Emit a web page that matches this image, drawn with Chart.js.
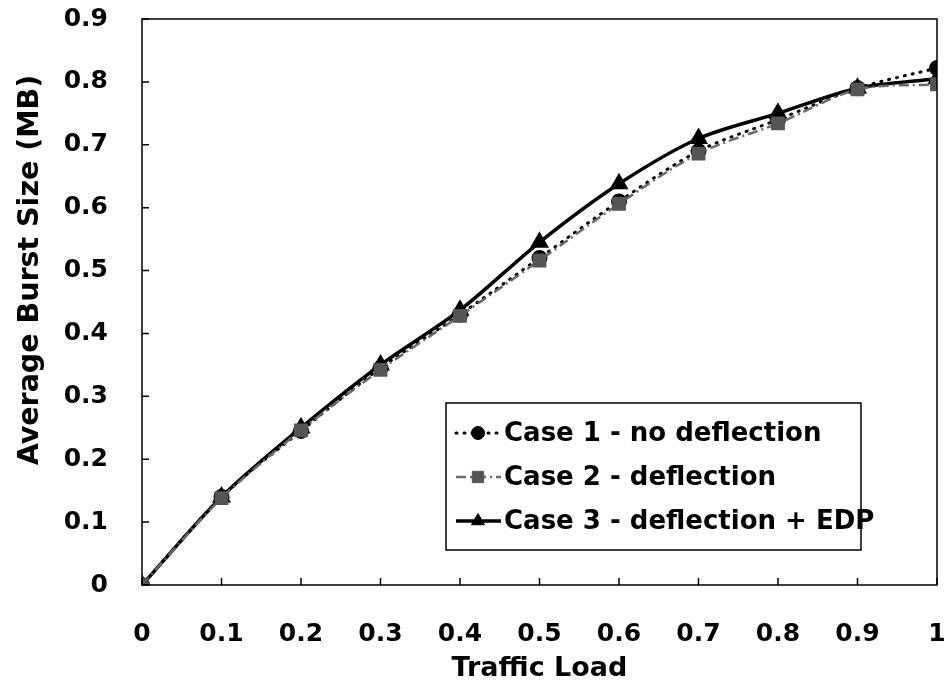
<!DOCTYPE html>
<html>
<head>
<meta charset="utf-8">
<script src="https://cdn.jsdelivr.net/npm/chart.js@4.4.0/dist/chart.umd.min.js"></script>
<style>
  html, body { margin: 0; padding: 0; background: #fff; }
  #wrap { width: 949px; height: 691px; }
</style>
</head>
<body>
<div id="wrap"><canvas id="burstChart" width="949" height="691"></canvas></div>
<script>
// traffic load on the x axis
const loads = [0, 0.1, 0.2, 0.3, 0.4, 0.5, 0.6, 0.7, 0.8, 0.9, 1.0];

// average burst size (MB) per case
const case1 = [0, 0.14, 0.245, 0.345, 0.43, 0.52, 0.61, 0.69, 0.74, 0.79, 0.822];
const case2 = [0, 0.138, 0.246, 0.342, 0.428, 0.516, 0.606, 0.686, 0.734, 0.788, 0.796];
const case3 = [0, 0.14, 0.25, 0.35, 0.437, 0.545, 0.638, 0.71, 0.75, 0.79, 0.805];

const seriesNames = ['Case 1 - no deflection', 'Case 2 - deflection', 'Case 3 - deflection + EDP'];
const yTicks = [0, 0.1, 0.2, 0.3, 0.4, 0.5, 0.6, 0.7, 0.8, 0.9];
const xTitle = 'Traffic Load';
const yTitle = 'Average Burst Size (MB)';

const FONT = '"DejaVu Sans", Verdana, sans-serif';

function toPoints(vals) {
    return loads.map((x, i) => ({ x: x, y: vals[i] }));
}

function fmt(v) {
    return String(Number(v.toFixed(1)));
}

// frame, inward ticks, axis titles and the boxed legend
const decorations = {
    id: 'decorations',
    afterDraw(chart) {
        const ctx = chart.ctx;
        const a = chart.chartArea;
        const xs = chart.scales.x;
        const ys = chart.scales.y;
        ctx.save();
        ctx.strokeStyle = '#000';
        ctx.lineWidth = 1.5;
        ctx.strokeRect(a.left, a.top, a.right - a.left, a.bottom - a.top);

        ctx.beginPath();
        loads.forEach(v => {
            const px = xs.getPixelForValue(v);
            ctx.moveTo(px, a.bottom);
            ctx.lineTo(px, a.bottom - 7);
        });
        yTicks.forEach(v => {
            const py = ys.getPixelForValue(v);
            ctx.moveTo(a.left, py);
            ctx.lineTo(a.left + 7, py);
        });
        ctx.stroke();

        // titles
        ctx.fillStyle = '#000';
        ctx.textAlign = 'center';
        ctx.textBaseline = 'middle';
        ctx.font = 'bold 27px ' + FONT;
        ctx.fillText(xTitle, (a.left + a.right) / 2, 669);
        ctx.save();
        ctx.font = 'bold 28.5px ' + FONT;
        ctx.translate(31, 270);
        ctx.rotate(-Math.PI / 2);
        ctx.fillText(yTitle, 0, 0);
        ctx.restore();

        // legend
        const box = { l: 446, t: 403, r: 861, b: 550 };
        ctx.fillStyle = '#fff';
        ctx.fillRect(box.l, box.t, box.r - box.l, box.b - box.t);
        ctx.strokeStyle = '#000';
        ctx.lineWidth = 1.5;
        ctx.strokeRect(box.l, box.t, box.r - box.l, box.b - box.t);
        const rows = [433, 477, 521];
        chart.data.datasets.forEach((ds, i) => {
            const y = rows[i];
            ctx.save();
            ctx.strokeStyle = ds.borderColor;
            ctx.lineWidth = ds.borderWidth;
            ctx.lineCap = ds.borderCapStyle || 'butt';
            ctx.setLineDash(ds.borderDash || []);
            ctx.beginPath();
            ctx.moveTo(456, y);
            ctx.lineTo(501, y);
            ctx.stroke();
            ctx.restore();
            ctx.save();
            ctx.fillStyle = ds.pointBackgroundColor;
            ctx.strokeStyle = ds.pointBorderColor;
            ctx.lineWidth = 1;
            Chart.helpers.drawPoint(ctx, {
                pointStyle: ds.pointStyle,
                radius: ds.pointRadius,
                borderWidth: 1,
                rotation: 0
            }, 478, y);
            ctx.restore();
            ctx.fillStyle = '#000';
            ctx.font = 'bold 26px ' + FONT;
            ctx.textAlign = 'left';
            ctx.textBaseline = 'middle';
            ctx.fillText(seriesNames[i], 504, y + 1);
        });
        ctx.restore();
    }
};

const ctx = document.getElementById('burstChart').getContext('2d');

const chart = new Chart(ctx, {
    type: 'line',
    data: {
        datasets: [{
            label: seriesNames[0],
            data: toPoints(case1),
            borderColor: '#000',
            borderWidth: 3,
            borderDash: [1, 7],
            borderCapStyle: 'round',
            pointStyle: 'circle',
            pointRadius: 6.5,
            pointBackgroundColor: '#000',
            pointBorderColor: '#000',
            tension: 0.3,
            order: 2
        }, {
            label: seriesNames[1],
            data: toPoints(case2),
            borderColor: '#6a6a6a',
            borderWidth: 2.5,
            borderDash: [10, 4, 2, 4],
            pointStyle: 'rect',
            pointRadius: 8,
            pointBackgroundColor: '#555',
            pointBorderColor: '#555',
            tension: 0.3,
            order: 1
        }, {
            label: seriesNames[2],
            data: toPoints(case3),
            borderColor: '#000',
            borderWidth: 3.5,
            pointStyle: 'triangle',
            pointRadius: 7.5,
            pointBackgroundColor: '#000',
            pointBorderColor: '#000',
            tension: 0.3,
            order: 3
        }]
    },
    options: {
        responsive: false,
        animation: false,
        layout: { padding: { top: 19, right: 12, left: 0, bottom: 0 } },
        plugins: {
            legend: { display: false },
            tooltip: { enabled: false }
        },
        scales: {
            x: {
                type: 'linear',
                min: 0,
                max: 1,
                grid: { display: false },
                border: { display: false },
                ticks: {
                    stepSize: 0.1,
                    color: '#000',
                    padding: 26,
                    maxRotation: 0,
                    font: { family: FONT, size: 25, weight: 'bold' },
                    callback: v => fmt(v)
                },
                afterFit(scale) {
                    scale.height = 106;
                    scale.paddingLeft = 0;
                    scale.paddingRight = 0;
                }
            },
            y: {
                min: 0,
                max: 0.9,
                grid: { display: false },
                border: { display: false },
                ticks: {
                    stepSize: 0.1,
                    color: '#000',
                    padding: 26,
                    font: { family: FONT, size: 25, weight: 'bold' },
                    callback: v => fmt(v)
                },
                afterFit(scale) {
                    scale.width = 142;
                    scale.paddingTop = 0;
                    scale.paddingBottom = 0;
                }
            }
        }
    },
    plugins: [decorations]
});
</script>
</body>
</html>
